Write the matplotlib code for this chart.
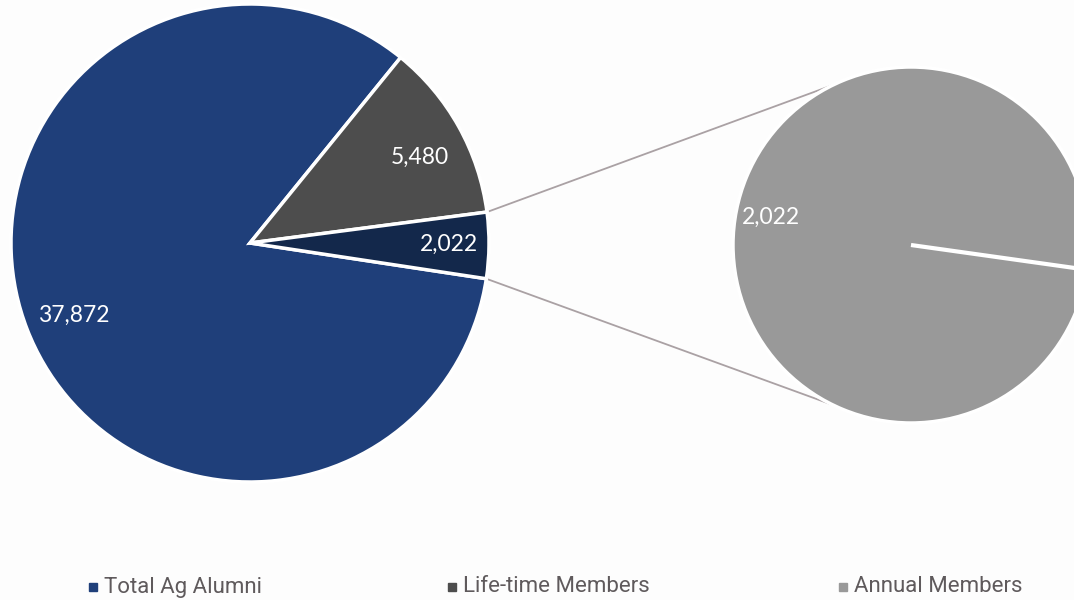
import numpy as np
import matplotlib
matplotlib.use("Agg")
import matplotlib.pyplot as plt
from matplotlib.patches import Rectangle

# ---- data ----
categories = ["Total Ag Alumni", "Life-time Members", "Annual Members"]
values = [37872, 5480, 2022]
secondary_values = [2022]
labels_main = ["37,872", "5,480", "2,022"]
labels_secondary = ["2,022"]

colors_main = ["#1F3F7A", "#4D4D4D", "#13284B"]
color_secondary = "#999999"
legend_colors = ["#1F3F7A", "#4D4D4D", "#999999"]

W, H = 1074, 600
fig = plt.figure(figsize=(W / 100, H / 100), dpi=100)
fig.patch.set_facecolor("#FDFDFD")
ax = fig.add_axes([0, 0, 1, 1])

# pie geometry (pixel-like data coordinates)
c1 = (250, H - 243)
r1 = 239
c2 = (911, H - 245)
r2 = 178
start1 = -8.6
start2 = -8.0

wedges, _ = ax.pie(values, colors=colors_main, startangle=start1, counterclock=False,
                   center=c1, radius=r1,
                   wedgeprops=dict(edgecolor="white", linewidth=2.5))
wedges2, _ = ax.pie(secondary_values, colors=[color_secondary], startangle=start2,
                    counterclock=True, center=c2, radius=r2,
                    wedgeprops=dict(edgecolor="white", linewidth=2.5))
for wd in wedges2:
    wd.set_facecolor(color_secondary)
    wd.set_alpha(1)
    wd.set_zorder(2)

# single-slice boundary line in secondary pie
a2 = np.deg2rad(start2)
ax.plot([c2[0], c2[0] + r2 * np.cos(a2)], [c2[1], c2[1] + r2 * np.sin(a2)],
        color="white", lw=3, solid_capstyle="butt", zorder=5)

# connector lines
w = wedges[2]
t_top, t_bot = np.deg2rad(w.theta2), np.deg2rad(w.theta1)
p_top = (c1[0] + r1 * np.cos(t_top), c1[1] + r1 * np.sin(t_top))
p_bot = (c1[0] + r1 * np.cos(t_bot), c1[1] + r1 * np.sin(t_bot))
a_up, a_dn = np.deg2rad(116), np.deg2rad(-116)
q_top = (c2[0] + r2 * np.cos(a_up), c2[1] + r2 * np.sin(a_up))
q_bot = (c2[0] + r2 * np.cos(a_dn), c2[1] + r2 * np.sin(a_dn))
ax.plot([p_top[0], q_top[0]], [p_top[1], q_top[1]], color="#AAA1A4", lw=1.3, zorder=0)
ax.plot([p_bot[0], q_bot[0]], [p_bot[1], q_bot[1]], color="#AAA1A4", lw=1.3, zorder=0)

# data labels
lab_font = ["Lato", "DejaVu Sans"]
label_pos = [(74, 315), (420, 157), (449, 244)]
for (x, y), t in zip(label_pos, labels_main):
    ax.text(x, H - y, t, color="white", fontsize=16.5, ha="center", va="center",
            family=lab_font, fontweight="normal", zorder=6)
ax.text(771, H - 217, labels_secondary[0], color="white", fontsize=16.5, ha="center",
        va="center", family=lab_font, fontweight="normal", zorder=6)

# legend
leg_font = ["Roboto", "DejaVu Sans"]
leg_x = [93, 452, 843]
for x, col, name in zip(leg_x, legend_colors, categories):
    ax.add_patch(Rectangle((x - 4, H - 591), 8, 8, color=col, zorder=6))
    ax.text(x + 11, H - 587, name, color="#5F5A5C", fontsize=16, ha="left",
            va="center", family=leg_font, zorder=6)

ax.set_xlim(0, W)
ax.set_ylim(0, H)
ax.set_aspect("equal")
ax.axis("off")

fig.savefig("out.png", dpi=100, facecolor=fig.get_facecolor())
